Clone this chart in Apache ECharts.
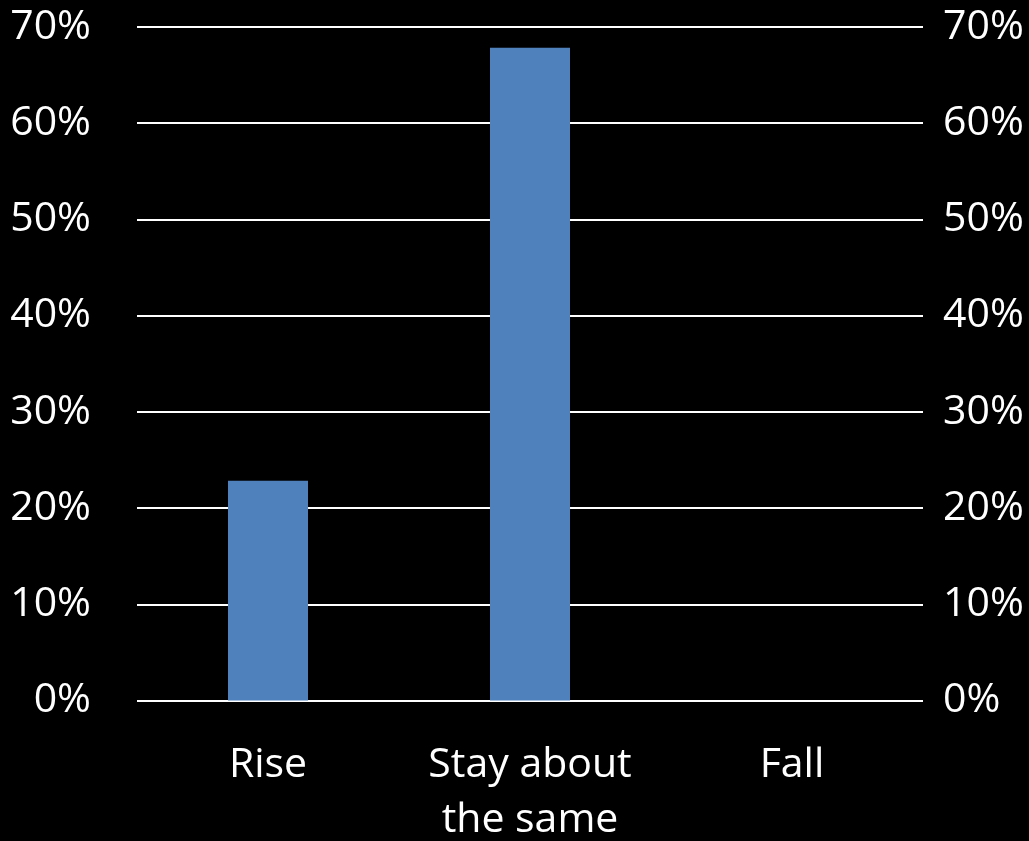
<!DOCTYPE html>
<html>
<head>
<meta charset="utf-8">
<script src="https://cdn.jsdelivr.net/npm/echarts@6/dist/echarts.min.js"></script>
<style>
html,body{margin:0;padding:0;background:#000;overflow:hidden;}
#c{width:1029px;height:841px;}
</style>
</head>
<body>
<div id="c"></div>
<script>
const categories = ['Rise', 'Stay about\nthe same', 'Fall'];
const values = [22.85, 67.85, 0];
const yTicks = [0, 10, 20, 30, 40, 50, 60, 70];

const chart = echarts.init(document.getElementById('c'), null, {renderer: 'canvas', width: 1029, height: 841});
const font = '"Open Sans", "Noto Sans", sans-serif';
const yAxisBase = {
  type: 'value', min: yTicks[0], max: yTicks[yTicks.length - 1], interval: 10,
  axisLine: {show: false}, axisTick: {show: false},
  splitLine: {show: true, lineStyle: {color: '#ffffff', width: 2}},
  axisLabel: {color: '#ffffff', fontSize: 41, fontFamily: font, formatter: v => v + '%'}
};
chart.setOption({
  backgroundColor: '#000000',
  animation: false,
  grid: {left: 137, right: 106, top: 27, bottom: 140.5, containLabel: false, outerBoundsMode: 'none'},
  xAxis: {
    type: 'category', data: categories,
    axisLine: {show: false}, axisTick: {show: false},
    axisLabel: {color: '#ffffff', fontSize: 41, fontFamily: font, lineHeight: 55, margin: 37, interval: 0}
  },
  yAxis: [
    Object.assign({}, yAxisBase, {position: 'left', axisLabel: Object.assign({}, yAxisBase.axisLabel, {margin: 46})}),
    Object.assign({}, yAxisBase, {position: 'right', splitLine: {show: false}, axisLabel: Object.assign({}, yAxisBase.axisLabel, {margin: 20})})
  ],
  series: [{
    type: 'bar', data: values, barWidth: 80, yAxisIndex: 0,
    itemStyle: {color: '#4F81BD'}
  }]
});
</script>
</body>
</html>
